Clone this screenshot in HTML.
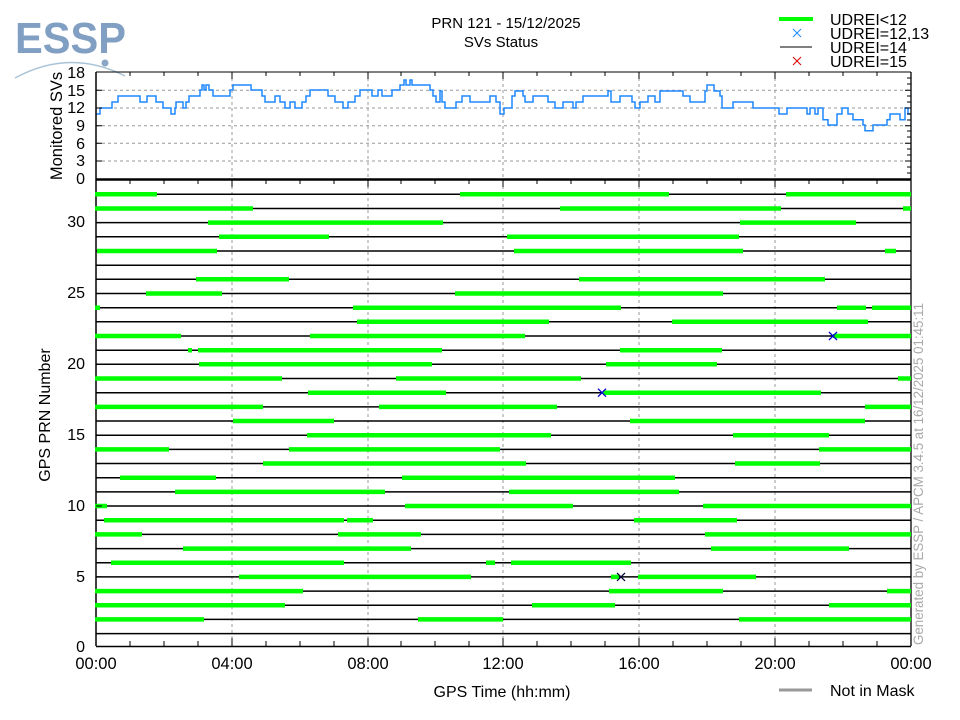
<!DOCTYPE html>
<html><head><meta charset="utf-8"><style>
html,body{margin:0;padding:0;background:#fff;}
svg{display:block;font-family:"Liberation Sans",sans-serif;}
</style></head><body>
<svg width="960" height="720" viewBox="0 0 960 720" xmlns="http://www.w3.org/2000/svg">
<!-- logo -->
<text x="15" y="53" font-size="44" font-weight="bold" fill="#809fc3" textLength="111" lengthAdjust="spacingAndGlyphs">ESSP</text>
<path d="M15 78 Q70 48 125 76" fill="none" stroke="#a9c4d6" stroke-width="1.5"/>
<circle cx="105" cy="63" r="3.5" fill="#8aa6c6"/>
<!-- titles -->
<text x="506" y="28" font-size="15" text-anchor="middle">PRN 121 - 15/12/2025</text>
<text x="501" y="47" font-size="15" text-anchor="middle">SVs Status</text>
<!-- legend -->
<line x1="779" y1="19" x2="813" y2="19" stroke="#00ff00" stroke-width="4"/>
<text x="830" y="25" font-size="16">UDREI&lt;12</text>
<path d="M793 29l8 8M801 29l-8 8" stroke="#1e88ff" stroke-width="1"/>
<text x="830" y="39" font-size="16">UDREI=12,13</text>
<line x1="780" y1="47" x2="812" y2="47" stroke="#000" stroke-width="1"/>
<text x="830" y="53" font-size="16">UDREI=14</text>
<path d="M793 57l8 8M801 57l-8 8" stroke="#d00" stroke-width="1"/>
<text x="830" y="67" font-size="16">UDREI=15</text>

<!-- grid -->
<g stroke="#999" stroke-width="1" stroke-dasharray="3,3">
<line x1="96" y1="90.3" x2="911" y2="90.3"/><line x1="96" y1="108" x2="911" y2="108"/>
<line x1="96" y1="125.7" x2="911" y2="125.7"/><line x1="96" y1="143.3" x2="911" y2="143.3"/>
<line x1="96" y1="161" x2="911" y2="161"/>
<line x1="232" y1="72" x2="232" y2="179"/><line x1="368" y1="72" x2="368" y2="179"/><line x1="503" y1="72" x2="503" y2="179"/><line x1="639" y1="72" x2="639" y2="179"/><line x1="775" y1="72" x2="775" y2="179"/>
<line x1="232" y1="180" x2="232" y2="646"/><line x1="368" y1="180" x2="368" y2="646"/><line x1="503" y1="180" x2="503" y2="646"/><line x1="639" y1="180" x2="639" y2="646"/><line x1="775" y1="180" x2="775" y2="646"/>
</g>
<!-- top series -->
<polyline fill="none" stroke="#1e88ff" stroke-width="1.5" points="96,114 100,114 100,108 105,108 105,108 112,108 112,102 118,102 118,96 140,96 140,102 147,102 147,96 156,96 156,102 163,102 163,108 171,108 171,114 175,114 175,108 176,108 176,102 183,102 183,108 186,108 186,102 189,102 189,96 200,96 200,90 202,90 202,85 204,85 204,90 206,90 206,85 209,85 209,90 213,90 213,96 230,96 230,90 233,90 233,85 241,85 241,85 251,85 251,90 262,90 262,96 265,96 265,102 275,102 275,96 280,96 280,102 285,102 285,108 290,108 290,102 295,102 295,108 302,108 302,102 306,102 306,96 310,96 310,90 328,90 328,96 335,96 335,102 343,102 343,108 348,108 348,102 355,102 355,96 360,96 360,90 372,90 372,96 378,96 378,90 382,90 382,96 392,96 392,90 400,90 400,85 404,85 404,80 406,80 406,85 410,85 410,80 412,80 412,85 430,85 430,90 433,90 433,96 436,96 436,102 440,102 440,91 442,91 442,102 445,102 445,108 456,108 456,102 462,102 462,96 470,96 470,102 490,102 490,96 496,96 496,102 500,102 500,114 504,114 504,108 508,108 508,108 512,108 512,96 515,96 515,91 523,91 523,96 525,96 525,102 533,102 533,96 548,96 548,102 555,102 555,108 563,108 563,102 573,102 573,108 576,108 576,102 583,102 583,96 608,96 608,91 611,91 611,102 620,102 620,96 632,96 632,102 635,102 635,108 640,108 640,102 648,102 648,96 655,96 655,102 660,102 660,91 683,91 683,96 690,96 690,102 705,102 705,91 707,91 707,85 714,85 714,91 720,91 720,96 722,96 722,108 733,108 733,102 753,102 753,108 779,108 779,114 787,114 787,108 807,108 807,114 810,114 810,108 815,108 815,114 818,114 818,108 823,108 823,119.7 828,119.7 828,125 837,125 837,114 842,114 842,108 848,108 848,114 853,114 853,119.7 863,119.7 863,125 865,125 865,130.7 873,130.7 873,125 887,125 887,119.7 890,119.7 890,114 900,114 900,119.7 905,119.7 905,108 908,108 908,114 911,114"/>
<!-- axes -->
<line x1="96" y1="72" x2="911" y2="72" stroke="#000" stroke-width="1"/>
<line x1="96" y1="72" x2="96" y2="646" stroke="#000" stroke-width="1.5"/>
<line x1="911" y1="72" x2="911" y2="646" stroke="#000" stroke-width="1.3"/>
<line x1="96" y1="179.5" x2="911" y2="179.5" stroke="#000" stroke-width="2.5"/>
<line x1="96" y1="646.5" x2="911" y2="646.5" stroke="#000" stroke-width="1.5"/>
<g stroke="#000" stroke-width="1">
<path d="M130 72v4M164 72v4M198 72v4M232 72v7M266 72v4M300 72v4M334 72v4M368 72v7M401 72v4M435 72v4M469 72v4M503 72v7M537 72v4M571 72v4M605 72v4M639 72v7M673 72v4M707 72v4M741 72v4M775 72v7M809 72v4M843 72v4M877 72v4"/>
<path d="M130 180v4M164 180v4M198 180v4M232 180v7M266 180v4M300 180v4M334 180v4M368 180v7M401 180v4M435 180v4M469 180v4M503 180v7M537 180v4M571 180v4M605 180v4M639 180v7M673 180v4M707 180v4M741 180v4M775 180v7M809 180v4M843 180v4M877 180v4"/>
<path d="M130 646v-5M164 646v-5M198 646v-5M232 646v-8M266 646v-5M300 646v-5M334 646v-5M368 646v-8M401 646v-5M435 646v-5M469 646v-5M503 646v-8M537 646v-5M571 646v-5M605 646v-5M639 646v-8M673 646v-5M707 646v-5M741 646v-5M775 646v-8M809 646v-5M843 646v-5M877 646v-5"/>
<path d="M96 90.3h6M96 108h6M96 125.7h6M96 143.3h6M96 161h6M911 78h-4M911 84h-4M911 90.3h-6M911 96h-4M911 102h-4M911 108h-6M911 114h-4M911 120h-4M911 125.7h-6M911 131h-4M911 137h-4M911 143.3h-6M911 149h-4M911 155h-4M911 161h-6M911 167h-4M911 173h-4"/>
</g>
<g font-size="16" text-anchor="end">
<text x="85" y="78">18</text><text x="85" y="96">15</text><text x="85" y="113">12</text><text x="85" y="131">9</text><text x="85" y="149">6</text><text x="85" y="166">3</text><text x="85" y="184">0</text>
</g>
<text transform="translate(62,126) rotate(-90)" font-size="16.5" text-anchor="middle">Monitored SVs</text>

<!-- bottom rows -->
<g stroke="#000" stroke-width="1.5">
<line x1="96" y1="194.3" x2="911" y2="194.3"/><line x1="96" y1="208.5" x2="911" y2="208.5"/><line x1="96" y1="222.6" x2="911" y2="222.6"/><line x1="96" y1="236.8" x2="911" y2="236.8"/><line x1="96" y1="251" x2="911" y2="251"/><line x1="96" y1="265.2" x2="911" y2="265.2"/><line x1="96" y1="279.3" x2="911" y2="279.3"/><line x1="96" y1="293.5" x2="911" y2="293.5"/><line x1="96" y1="307.7" x2="911" y2="307.7"/><line x1="96" y1="321.8" x2="911" y2="321.8"/><line x1="96" y1="336" x2="911" y2="336"/><line x1="96" y1="350.2" x2="911" y2="350.2"/><line x1="96" y1="364.3" x2="911" y2="364.3"/><line x1="96" y1="378.5" x2="911" y2="378.5"/><line x1="96" y1="392.7" x2="911" y2="392.7"/><line x1="96" y1="406.9" x2="911" y2="406.9"/><line x1="96" y1="421" x2="911" y2="421"/><line x1="96" y1="435.2" x2="911" y2="435.2"/><line x1="96" y1="449.4" x2="911" y2="449.4"/><line x1="96" y1="463.5" x2="911" y2="463.5"/><line x1="96" y1="477.7" x2="911" y2="477.7"/><line x1="96" y1="491.9" x2="911" y2="491.9"/><line x1="96" y1="506" x2="911" y2="506"/><line x1="96" y1="520.2" x2="911" y2="520.2"/><line x1="96" y1="534.4" x2="911" y2="534.4"/><line x1="96" y1="548.6" x2="911" y2="548.6"/><line x1="96" y1="562.7" x2="911" y2="562.7"/><line x1="96" y1="576.9" x2="911" y2="576.9"/><line x1="96" y1="591.1" x2="911" y2="591.1"/><line x1="96" y1="605.2" x2="911" y2="605.2"/><line x1="96" y1="619.4" x2="911" y2="619.4"/><line x1="96" y1="633.6" x2="911" y2="633.6"/>
</g>
<g stroke="#00ff00" stroke-width="4.5">
<path d="M95 194.3H157M460 194.3H669M786 194.3H911"/>
<path d="M95 208.5H253M560 208.5H781M903 208.5H911"/>
<path d="M208 222.6H443M740 222.6H856"/>
<path d="M219 236.8H329M507 236.8H739"/>
<path d="M97 251H217M514 251H743M885 251H896"/>
<path d="M196 279.3H289M579 279.3H825"/>
<path d="M146 293.5H222M455 293.5H723"/>
<path d="M95 307.7H100M353 307.7H621M837 307.7H866M872 307.7H911"/>
<path d="M357 321.8H549M672 321.8H868"/>
<path d="M95 336H181M310 336H525M833 336H911"/>
<path d="M188 350.2H192M198 350.2H442M620 350.2H722"/>
<path d="M199 364.3H432M606 364.3H717"/>
<path d="M95 378.5H282M396 378.5H581M898 378.5H911"/>
<path d="M308 392.7H446M603 392.7H821"/>
<path d="M95 406.9H263M379 406.9H557M865 406.9H911"/>
<path d="M233 421H334M630 421H865"/>
<path d="M307 435.2H551M733 435.2H829"/>
<path d="M95 449.4H169M289 449.4H500M819 449.4H911"/>
<path d="M263 463.5H526M735 463.5H820"/>
<path d="M120 477.7H216M402 477.7H675"/>
<path d="M175 491.9H385M509 491.9H679"/>
<path d="M95 506H107M405 506H573M703 506H911"/>
<path d="M104 520.2H344M347 520.2H373M634 520.2H737"/>
<path d="M95 534.4H142M338 534.4H421M705 534.4H911"/>
<path d="M183 548.6H411M711 548.6H849"/>
<path d="M111 562.7H344M486 562.7H495M511 562.7H631"/>
<path d="M239 576.9H471M611 576.9H619M638 576.9H756"/>
<path d="M95 591.1H303M609 591.1H723M887 591.1H911"/>
<path d="M95 605.2H285M532 605.2H615M829 605.2H911"/>
<path d="M95 619.4H204M418 619.4H503M739 619.4H911"/>
</g>
<g stroke="#0000cc" stroke-width="1.3">
<path d="M829 332l8 8M837 332l-8 8"/>
<path d="M598 388.7l8 8M606 388.7l-8 8"/>
</g>
<path d="M617 572.9l8 8M625 572.9l-8 8" stroke="#003" stroke-width="1.2"/>

<g font-size="16" text-anchor="end">
<text x="85" y="652">0</text><text x="85" y="582">5</text><text x="85" y="511">10</text><text x="85" y="440">15</text><text x="85" y="369">20</text><text x="85" y="298">25</text><text x="85" y="227">30</text>
</g>
<g stroke="#000" stroke-width="1"><path d="M96 576.9h6M96 506h6M96 435.2h6M96 364.3h6M96 293.5h6M96 222.6h6"/></g>
<text transform="translate(50,415) rotate(-90)" font-size="16" text-anchor="middle">GPS PRN Number</text>
<g font-size="16.5" text-anchor="middle">
<text x="96" y="669">00:00</text><text x="232" y="669">04:00</text><text x="368" y="669">08:00</text><text x="503" y="669">12:00</text><text x="639" y="669">16:00</text><text x="775" y="669">20:00</text><text x="911" y="669">00:00</text>
</g>
<text x="502" y="697" font-size="16" text-anchor="middle">GPS Time (hh:mm)</text>
<line x1="779" y1="690" x2="812" y2="690" stroke="#999" stroke-width="3"/>
<text x="830" y="696" font-size="16">Not in Mask</text>
<text transform="translate(923,645) rotate(-90)" font-size="13.5" fill="#aaa" textLength="342" lengthAdjust="spacingAndGlyphs">Generated by ESSP / APCM 3.4.5 at 16/12/2025 01:45:11</text>
</svg>
</body></html>
